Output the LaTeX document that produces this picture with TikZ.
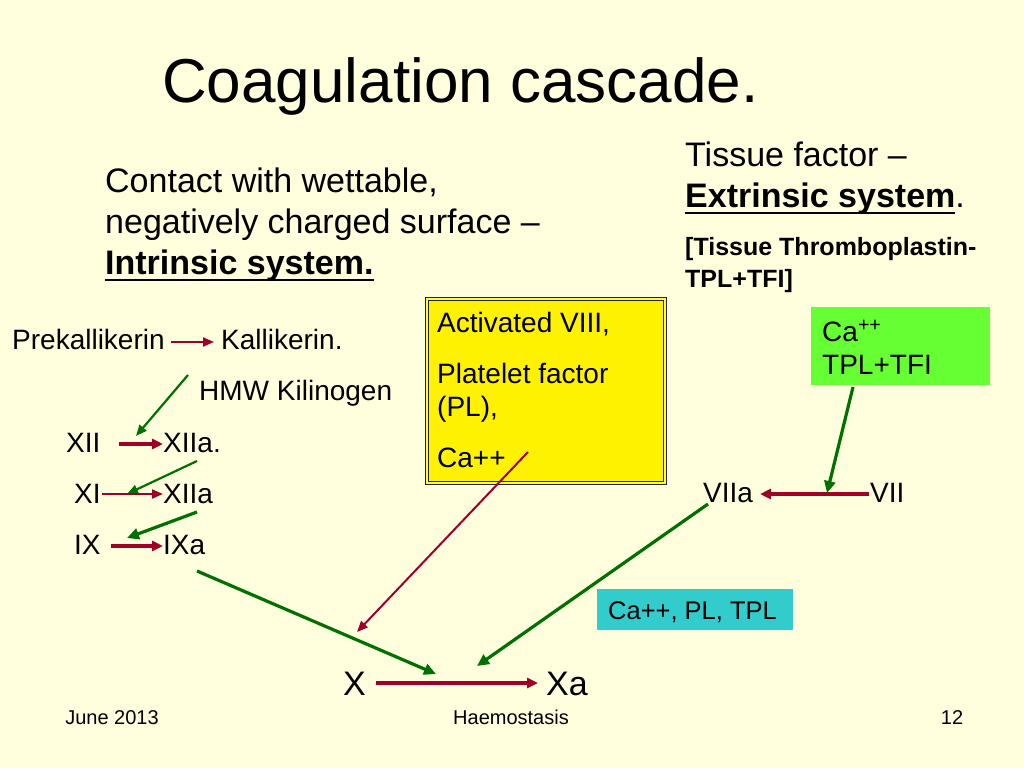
\documentclass[tikz,border=0pt]{standalone}
\usepackage{fontspec}
\setmainfont{Liberation Sans}
\usetikzlibrary{arrows.meta}
\definecolor{bg}{RGB}{255,255,221}
\definecolor{dred}{RGB}{160,0,40}
\definecolor{dgreen}{RGB}{0,112,0}
\definecolor{boxgreen}{RGB}{102,255,51}
\definecolor{boxcyan}{RGB}{51,204,204}
\newcommand\myul[1]{\setbox0\hbox{#1}\rlap{\rule[-7pt]{\wd0}{2pt}}\box0}
\begin{document}
\begin{tikzpicture}[x=1pt,y=-1pt,
  lbl/.style={anchor=base west,inner sep=0pt,font=\fontsize{28}{33}\selectfont},
  lblbig/.style={anchor=base west,inner sep=0pt,font=\fontsize{34}{40}\selectfont},
  lblsmall/.style={anchor=base west,inner sep=0pt,font=\fontsize{25}{30}\selectfont\bfseries},
  foot/.style={anchor=base,inner sep=0pt,font=\fontsize{20}{24}\selectfont},
  redthick/.style={draw=dred,line width=3.2pt,-{Triangle[length=11pt,width=10pt]}},
  redthin/.style={draw=dred,line width=2pt,-{Triangle[length=11pt,width=9pt]}},
  greenthick/.style={draw=dgreen,line width=3.2pt,-{Triangle[length=12pt,width=11pt]}},
  greenthin/.style={draw=dgreen,line width=2.2pt,-{Triangle[length=11pt,width=9pt]}},
  plainbox/.style={inner sep=0pt}]
\useasboundingbox[fill=bg] (0,0) rectangle (1024,768);

% title
\node[anchor=base west,inner sep=0pt,font=\fontsize{62}{70}\selectfont] (title) at (162,102) {Coagulation cascade.};

% intrinsic text
\node[lblbig] (c1) at (105,192) {Contact with wettable,};
\node[lblbig] (c2) at (105,233) {negatively charged surface –};
\node[lblbig] (c3) at (105,274) {\myul{\textbf{Intrinsic system.}}};

% extrinsic text
\node[lblbig] (t1) at (685,166) {Tissue factor –};
\node[lblbig] (t2) at (685,207) {\myul{\textbf{Extrinsic system}}.};
\node[lblsmall] (t3) at (685,255) {[Tissue Thromboplastin-};
\node[lblsmall] (t4) at (685,287) {TPL+TFI]};

% yellow box
\draw[draw=black!85,line width=1pt,double=yellow!60!bg,double distance=2pt,fill=yellow] (427,299) rectangle (665,483);
\node[plainbox] (ybox) at (546,391) {};
\node[lbl] (y1) at (437,332) {Activated VIII,};
\node[lbl] (y2) at (437,383) {Platelet factor};
\node[lbl] (y3) at (437,416) {(PL),};
\node[lbl] (y4) at (437,467) {Ca++};

% green box
\fill[boxgreen] (811,307) rectangle (990,385);
\node[lbl] (g1) at (822,341) {Ca\textsuperscript{++}};
\node[lbl] (g2) at (822,374) {TPL+TFI};

% cyan box
\fill[boxcyan] (597,589) rectangle (793,630);
\node[lbl,font=\fontsize{25.5}{30}\selectfont] (cy) at (608,619) {Ca++, PL, TPL};

% intrinsic cascade
\node[lbl] (pk) at (12,349) {Prekallikerin};
\node[lbl] (k) at (221,349) {Kallikerin.};
\node[lbl] (hmw) at (199,400) {HMW Kilinogen};
\node[lbl] (xii) at (66,452) {XII};
\node[lbl] (xiia1) at (163,452) {XIIa.};
\node[lbl] (xi) at (74,503) {XI};
\node[lbl] (xiia2) at (163,503) {XIIa};
\node[lbl] (ix) at (74,554) {IX};
\node[lbl] (ixa) at (163,554) {IXa};

% extrinsic cascade
\node[lbl] (viia) at (703,502) {VIIa};
\node[lbl] (vii) at (870,502) {VII};

% common
\node[lblbig] (x) at (343,695) {X};
\node[lblbig] (xa) at (546,695) {Xa};

% footer
\node[foot] (date) at (112,724) {June 2013};
\node[foot] (topic) at (511,724) {Haemostasis};
\node[foot] (page) at (952,724) {12};

% coordinates for connector ends
\coordinate (a1s) at (171,342); \coordinate (a1e) at (214,342);
\coordinate (h1s) at (188,375); \coordinate (h1e) at (136,436);
\coordinate (a2s) at (119,444); \coordinate (a2e) at (163,444);
\coordinate (h2s) at (197,461); \coordinate (h2e) at (127,494);
\coordinate (a3s) at (102,494); \coordinate (a3e) at (163,494);
\coordinate (h3s) at (197,512); \coordinate (h3e) at (127,538);
\coordinate (a4s) at (111,546); \coordinate (a4e) at (163,546);
\coordinate (h4s) at (197,571); \coordinate (h4e) at (436,674);
\coordinate (cas) at (528,452); \coordinate (cae) at (357,632);
\coordinate (gbs) at (853,387); \coordinate (gbe) at (827,493);
\coordinate (a7s) at (869,494); \coordinate (a7e) at (760,494);
\coordinate (v7s) at (708,504); \coordinate (v7e) at (477,666);
\coordinate (axs) at (376,683); \coordinate (axe) at (538,683);

% connectors
\draw[redthin] (a1s) -- (a1e);
\draw[greenthin] (h1s) -- (h1e);
\draw[redthick] (a2s) -- (a2e);
\draw[greenthin] (h2s) -- (h2e);
\draw[redthin] (a3s) -- (a3e);
\draw[greenthick] (h3s) -- (h3e);
\draw[redthick] (a4s) -- (a4e);
\draw[greenthick] (h4s) -- (h4e);
\draw[redthin] (cas) -- (cae);
\draw[greenthick] (gbs) -- (gbe);
\draw[redthick] (a7s) -- (a7e);
\draw[greenthick] (v7s) -- (v7e);
\draw[redthick] (axs) -- (axe);
\end{tikzpicture}
\end{document}
